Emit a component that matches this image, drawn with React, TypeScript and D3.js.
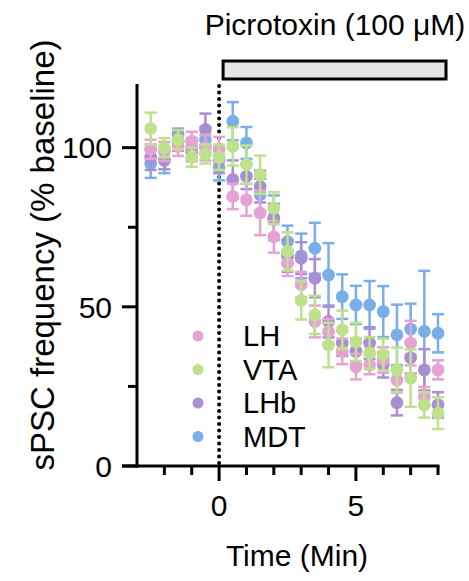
import React from 'react';
import * as d3 from 'd3';

const times = [-2.5, -2, -1.5, -1, -0.5, 0, 0.5, 1, 1.5, 2, 2.5, 3, 3.5, 4, 4.5, 5, 5.5, 6, 6.5, 7, 7.5, 8];

const lhMean = [99.5, 98.8, 100.4, 102, 100, 99.4, 84.7, 83.6, 79.5, 72, 63.7, 57, 45.4, 42.2, 36, 31.2, 31.8, 33.3, 27, 38.6, 21.8, 30.2];
const lhSem = [3, 3, 3, 3, 4, 4, 4, 5, 7, 5, 4, 4, 5, 4, 4, 4, 3, 4, 4, 7, 3, 3];

const vtaMean = [106, 100, 102.5, 97, 98, 97, 100.4, 94.7, 91.5, 81, 67.4, 52, 47.5, 38, 42.8, 39, 35.5, 35, 30.2, 27.6, 19.2, 16.6];
const vtaSem = [5, 3, 3, 3, 3, 4, 6, 6, 6, 5, 6, 6, 6, 7, 6, 6, 5, 5, 7, 9, 4, 5];

const lhbMean = [97, 96.2, 102, 98.8, 105.7, 96, 90, 91, 87.8, 77.4, 66, 65.3, 59, 45.4, 38.6, 36, 38.6, 31.8, 19.9, 34, 30.2, 19.2];
const lhbSem = [4, 3, 3, 3, 5, 4, 6, 4, 5, 5, 5, 5, 6, 5, 4, 4, 5, 4, 4, 5, 6.5, 4];

const mdtMean = [95, 96, 104, 100, 102.5, 93.7, 108.3, 101.5, 85.2, 78, 70.5, 66, 68.4, 60, 53.2, 50.6, 50.6, 48.5, 41.2, 43, 42.3, 41.7];
const mdtSem = [4.5, 4, 2, 3, 4, 4, 6, 5, 5, 7, 5, 7, 8, 10, 7, 6, 7.5, 8, 9.5, 8, 19, 6];

const groups = ['LH', 'VTA', 'LHb', 'MDT'];
const colors = ['#e6a2d4', '#bee18c', '#aa8ed4', '#7aaee8'];

const yMajor = [0, 50, 100];
const yMinor = [25, 75];
const xMajor = [0, 5];
const xMinor = [-2, -1, 1, 2, 3, 4, 6, 7, 8];

const W = 469;
const H = 581;
const FONT = '"Liberation Sans", Arial, sans-serif';

const series = [
  { name: 'LH', mean: lhMean, sem: lhSem, color: colors[0] },
  { name: 'VTA', mean: vtaMean, sem: vtaSem, color: colors[1] },
  { name: 'LHb', mean: lhbMean, sem: lhbSem, color: colors[2] },
  { name: 'MDT', mean: mdtMean, sem: mdtSem, color: colors[3] },
];
// draw order: blue at the back
const drawOrder = [3, 2, 0, 1];

export default function App() {
  const x = d3.scaleLinear().domain([-3, 8]).range([137, 438]);
  const y = d3.scaleLinear().domain([0, 120]).range([466, 84]);
  const capW = 6;

  return (
    <svg width={W} height={H} style={{ position: 'absolute', left: 0, top: 0, background: '#fff' }} fontFamily={FONT}>
      {/* drug bar */}
      <text x={335} y={35} fontSize={30} textAnchor="middle">Picrotoxin (100 μM)</text>
      <rect x={x(0) + 4} y={61} width={x(8) - x(0) + 4} height={18} fill="#e6e6e6" stroke="#000" strokeWidth={3} />

      {/* drug onset */}
      <line x1={x(0)} x2={x(0)} y1={y(0) - 3} y2={82} stroke="#000" strokeWidth={4} strokeDasharray="0 6.5" strokeLinecap="round" />

      {/* data */}
      {drawOrder.map(i => {
        const s = series[i];
        return (
          <g key={s.name}>
            {times.map((t, j) => {
              const cx = x(t);
              const hi = y(s.mean[j] + s.sem[j]);
              const lo = y(s.mean[j] - s.sem[j]);
              return (
                <g key={j} stroke={s.color} strokeWidth={2.5}>
                  <line x1={cx} x2={cx} y1={hi} y2={lo} />
                  <line x1={cx - capW} x2={cx + capW} y1={hi} y2={hi} />
                  <line x1={cx - capW} x2={cx + capW} y1={lo} y2={lo} />
                  <circle cx={cx} cy={y(s.mean[j])} r={6.4} fill={s.color} stroke="none" />
                </g>
              );
            })}
          </g>
        );
      })}

      {/* y axis */}
      <line x1={137} x2={137} y1={y(120)} y2={y(0) + 1.5} stroke="#000" strokeWidth={3} />
      {yMajor.map(v => (
        <g key={v}>
          <line x1={122} x2={137} y1={y(v)} y2={y(v)} stroke="#000" strokeWidth={3} />
          <text x={112} y={y(v)} dy="0.36em" fontSize={30} textAnchor="end">{v}</text>
        </g>
      ))}
      {yMinor.map(v => (
        <line key={v} x1={128} x2={137} y1={y(v)} y2={y(v)} stroke="#000" strokeWidth={3} />
      ))}

      {/* x axis */}
      <line x1={122} x2={x(8) + 1.5} y1={y(0)} y2={y(0)} stroke="#000" strokeWidth={3} />
      {xMajor.map(v => (
        <g key={v}>
          <line x1={x(v)} x2={x(v)} y1={y(0)} y2={y(0) + 15} stroke="#000" strokeWidth={3} />
          <text x={x(v)} y={516} fontSize={30} textAnchor="middle">{v}</text>
        </g>
      ))}
      {xMinor.map(v => (
        <line key={v} x1={x(v)} x2={x(v)} y1={y(0)} y2={y(0) + 9} stroke="#000" strokeWidth={3} />
      ))}

      {/* legend */}
      {groups.map((g, i) => (
        <g key={g}>
          <circle cx={198} cy={336 + i * 33.5} r={5.5} fill={colors[i]} />
          <text x={243} y={336 + i * 33.5} dy="0.36em" fontSize={29}>{g}</text>
        </g>
      ))}

      {/* axis titles */}
      <text x={297} y={566} fontSize={30} textAnchor="middle">Time (Min)</text>
      <text transform="translate(54,255) rotate(-90)" fontSize={33} textAnchor="middle">sPSC frequency (% baseline)</text>
    </svg>
  );
}
